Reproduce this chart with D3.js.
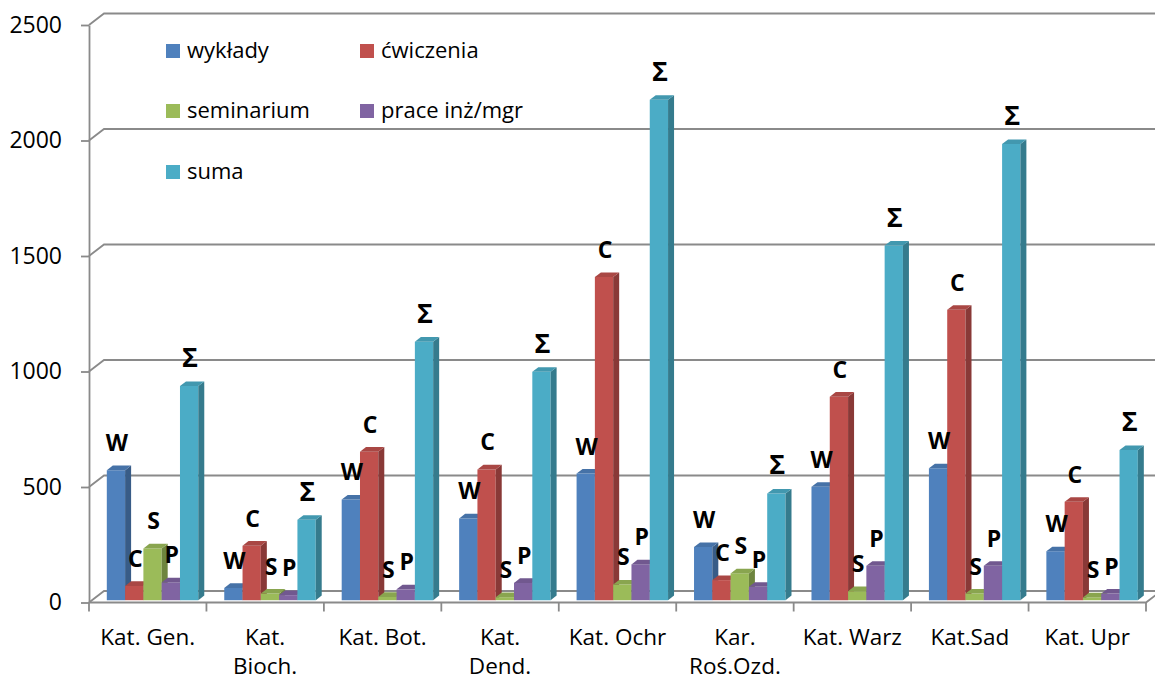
<!DOCTYPE html>
<html>
<head>
<meta charset="utf-8">
<script src="https://cdn.jsdelivr.net/npm/d3@7"></script>
<style>
  html, body { margin: 0; padding: 0; background: #fff; }
  svg { display: block; }
  text { font-family: "Open Sans", "DejaVu Sans", sans-serif; fill: #000; }
</style>
</head>
<body>
<svg id="chart" width="1155" height="682"></svg>
<script>
// ---- data ----
const categories = ["Kat. Gen.", "Kat.\nBioch.", "Kat. Bot.", "Kat.\nDend.", "Kat. Ochr", "Kar.\nRoś.Ozd.", "Kat. Warz", "Kat.Sad", "Kat. Upr"];
const seriesNames = ["wykłady", "ćwiczenia", "seminarium", "prace inż/mgr", "suma"];
const seriesLetters = ["W", "C", "S", "P", "Σ"];
const seriesColors = ["#4F81BD", "#C0504D", "#9BBB59", "#8064A2", "#4BACC6"];
const wyklady    = [563,  53,  436, 354,  548, 230,  491,  571, 212];
const cwiczenia  = [ 62, 236,  643, 566, 1399,  87,  881, 1257, 426];
const seminarium = [224,  29,   14,  13,   68, 116,   39,   29,  12];
const prace      = [ 77,  22,   47,  75,  155,  58,  149,  149,  29];
const suma       = [927, 348, 1119, 989, 2166, 462, 1535, 1975, 650];
const seriesValues = [wyklady, cwiczenia, seminarium, prace, suma];
const yTicks = [0, 500, 1000, 1500, 2000, 2500];

// ---- layout ----
const svg = d3.select("#chart");
const DX = 15, DY = 11.5;        // depth projection of the 3D box
const zA = 0.2, zB = 0.6;        // bar depth range (fraction of box depth)
const y = d3.scaleLinear().domain([0, 2500]).range([602.5, 25]);
const x = d3.scaleBand().domain(categories).range([89, 1146]);
const xs = d3.scaleBand().domain(seriesLetters).range([0, x.bandwidth()])
  .paddingInner(0).paddingOuter(0.71).align(0.57);
const P = (px, py, z) => [px + DX * z, py - DY * z];
const gridColor = "#8a8a8a";

// gridlines on back wall + side wall diagonals
const grid = svg.append("g");
yTicks.forEach(v => {
  const a = P(89, y(v), 0), b = P(89, y(v), 1);
  grid.append("polyline")
    .attr("points", [a, b, [1160, b[1]]].map(p => p.join(",")).join(" "))
    .attr("fill", "none").attr("stroke", gridColor).attr("stroke-width", 1.8);
});

// floor front edge and right diagonal
const x0 = 89, x1 = 1146;
svg.append("polyline")
  .attr("points", [[x0, y(0)], [x1, y(0)], P(x1, y(0), 1)].map(p => p.join(",")).join(" "))
  .attr("fill", "none").attr("stroke", gridColor).attr("stroke-width", 1.8);
// category boundary ticks
const bounds = categories.map(c => x(c)).concat([x1]);
svg.append("g").selectAll("line").data(bounds).join("line")
  .attr("x1", d => d).attr("x2", d => d)
  .attr("y1", y(0)).attr("y2", y(0) + 9)
  .attr("stroke", gridColor).attr("stroke-width", 1.8);

// y axis
const yAxis = svg.append("g").attr("transform", "translate(89,0)")
  .call(d3.axisLeft(y).tickValues(yTicks).tickFormat(d3.format("d"))
    .tickSize(8).tickSizeOuter(0).tickPadding(19));
yAxis.select(".domain").attr("stroke", gridColor).attr("stroke-width", 1.8);
yAxis.selectAll(".tick line").attr("stroke", gridColor).attr("stroke-width", 1.8);
yAxis.selectAll(".tick text").style("font-size", "23px")
  .style("font-family", "'Open Sans', sans-serif").attr("fill", "#000");

// category labels
const catLabels = svg.append("g");
categories.forEach(c => {
  const lines = c.split("\n");
  const t = catLabels.append("text")
    .attr("text-anchor", "middle").style("font-size", "22.5px");
  lines.forEach((ln, i) => {
    t.append("tspan").attr("x", x(c) + x.bandwidth() / 2).attr("y", 645 + i * 29).text(ln);
  });
});

// bars (left to right so later front faces hide earlier side faces)
const bars = svg.append("g");
const labels = svg.append("g");
const poly = pts => pts.map(p => p.join(",")).join(" ");
categories.forEach((c, ci) => {
  seriesLetters.forEach((s, si) => {
    const v = seriesValues[si][ci];
    const col = d3.color(seriesColors[si]);
    const xl = x(c) + xs(s), xr = xl + xs.bandwidth();
    const yt = y(v), yb = y(0);
    // front
    bars.append("polygon")
      .attr("points", poly([P(xl, yt, zA), P(xr, yt, zA), P(xr, yb, zA), P(xl, yb, zA)]))
      .attr("fill", col.formatHex());
    // side
    bars.append("polygon")
      .attr("points", poly([P(xr, yt, zA), P(xr, yt, zB), P(xr, yb, zB), P(xr, yb, zA)]))
      .attr("fill", col.darker(0.95).formatHex());
    // top
    bars.append("polygon")
      .attr("points", poly([P(xl, yt, zA), P(xr, yt, zA), P(xr, yt, zB), P(xl, yt, zB)]))
      .attr("fill", col.darker(0.35).formatHex());
    // letter label
    const f = P((xl + xr) / 2, yt, zA);
    labels.append("text")
      .attr("x", f[0] + 1).attr("y", f[1] - 19)
      .attr("text-anchor", "middle")
      .style("font-size", s === "Σ" ? "27px" : "23px").style("font-weight", "bold")
      .text(s);
  });
});

// legend
const legend = svg.append("g");
const legPos = [[166, 44], [360, 44], [166, 104], [360, 104], [166, 165]];
seriesNames.forEach((n, i) => {
  const [lx, ly] = legPos[i];
  legend.append("rect").attr("x", lx).attr("y", ly).attr("width", 14).attr("height", 14)
    .attr("fill", seriesColors[i]);
  legend.append("text").attr("x", lx + 21).attr("y", ly + 14)
    .style("font-size", "22px").text(n);
});
</script>
</body>
</html>
